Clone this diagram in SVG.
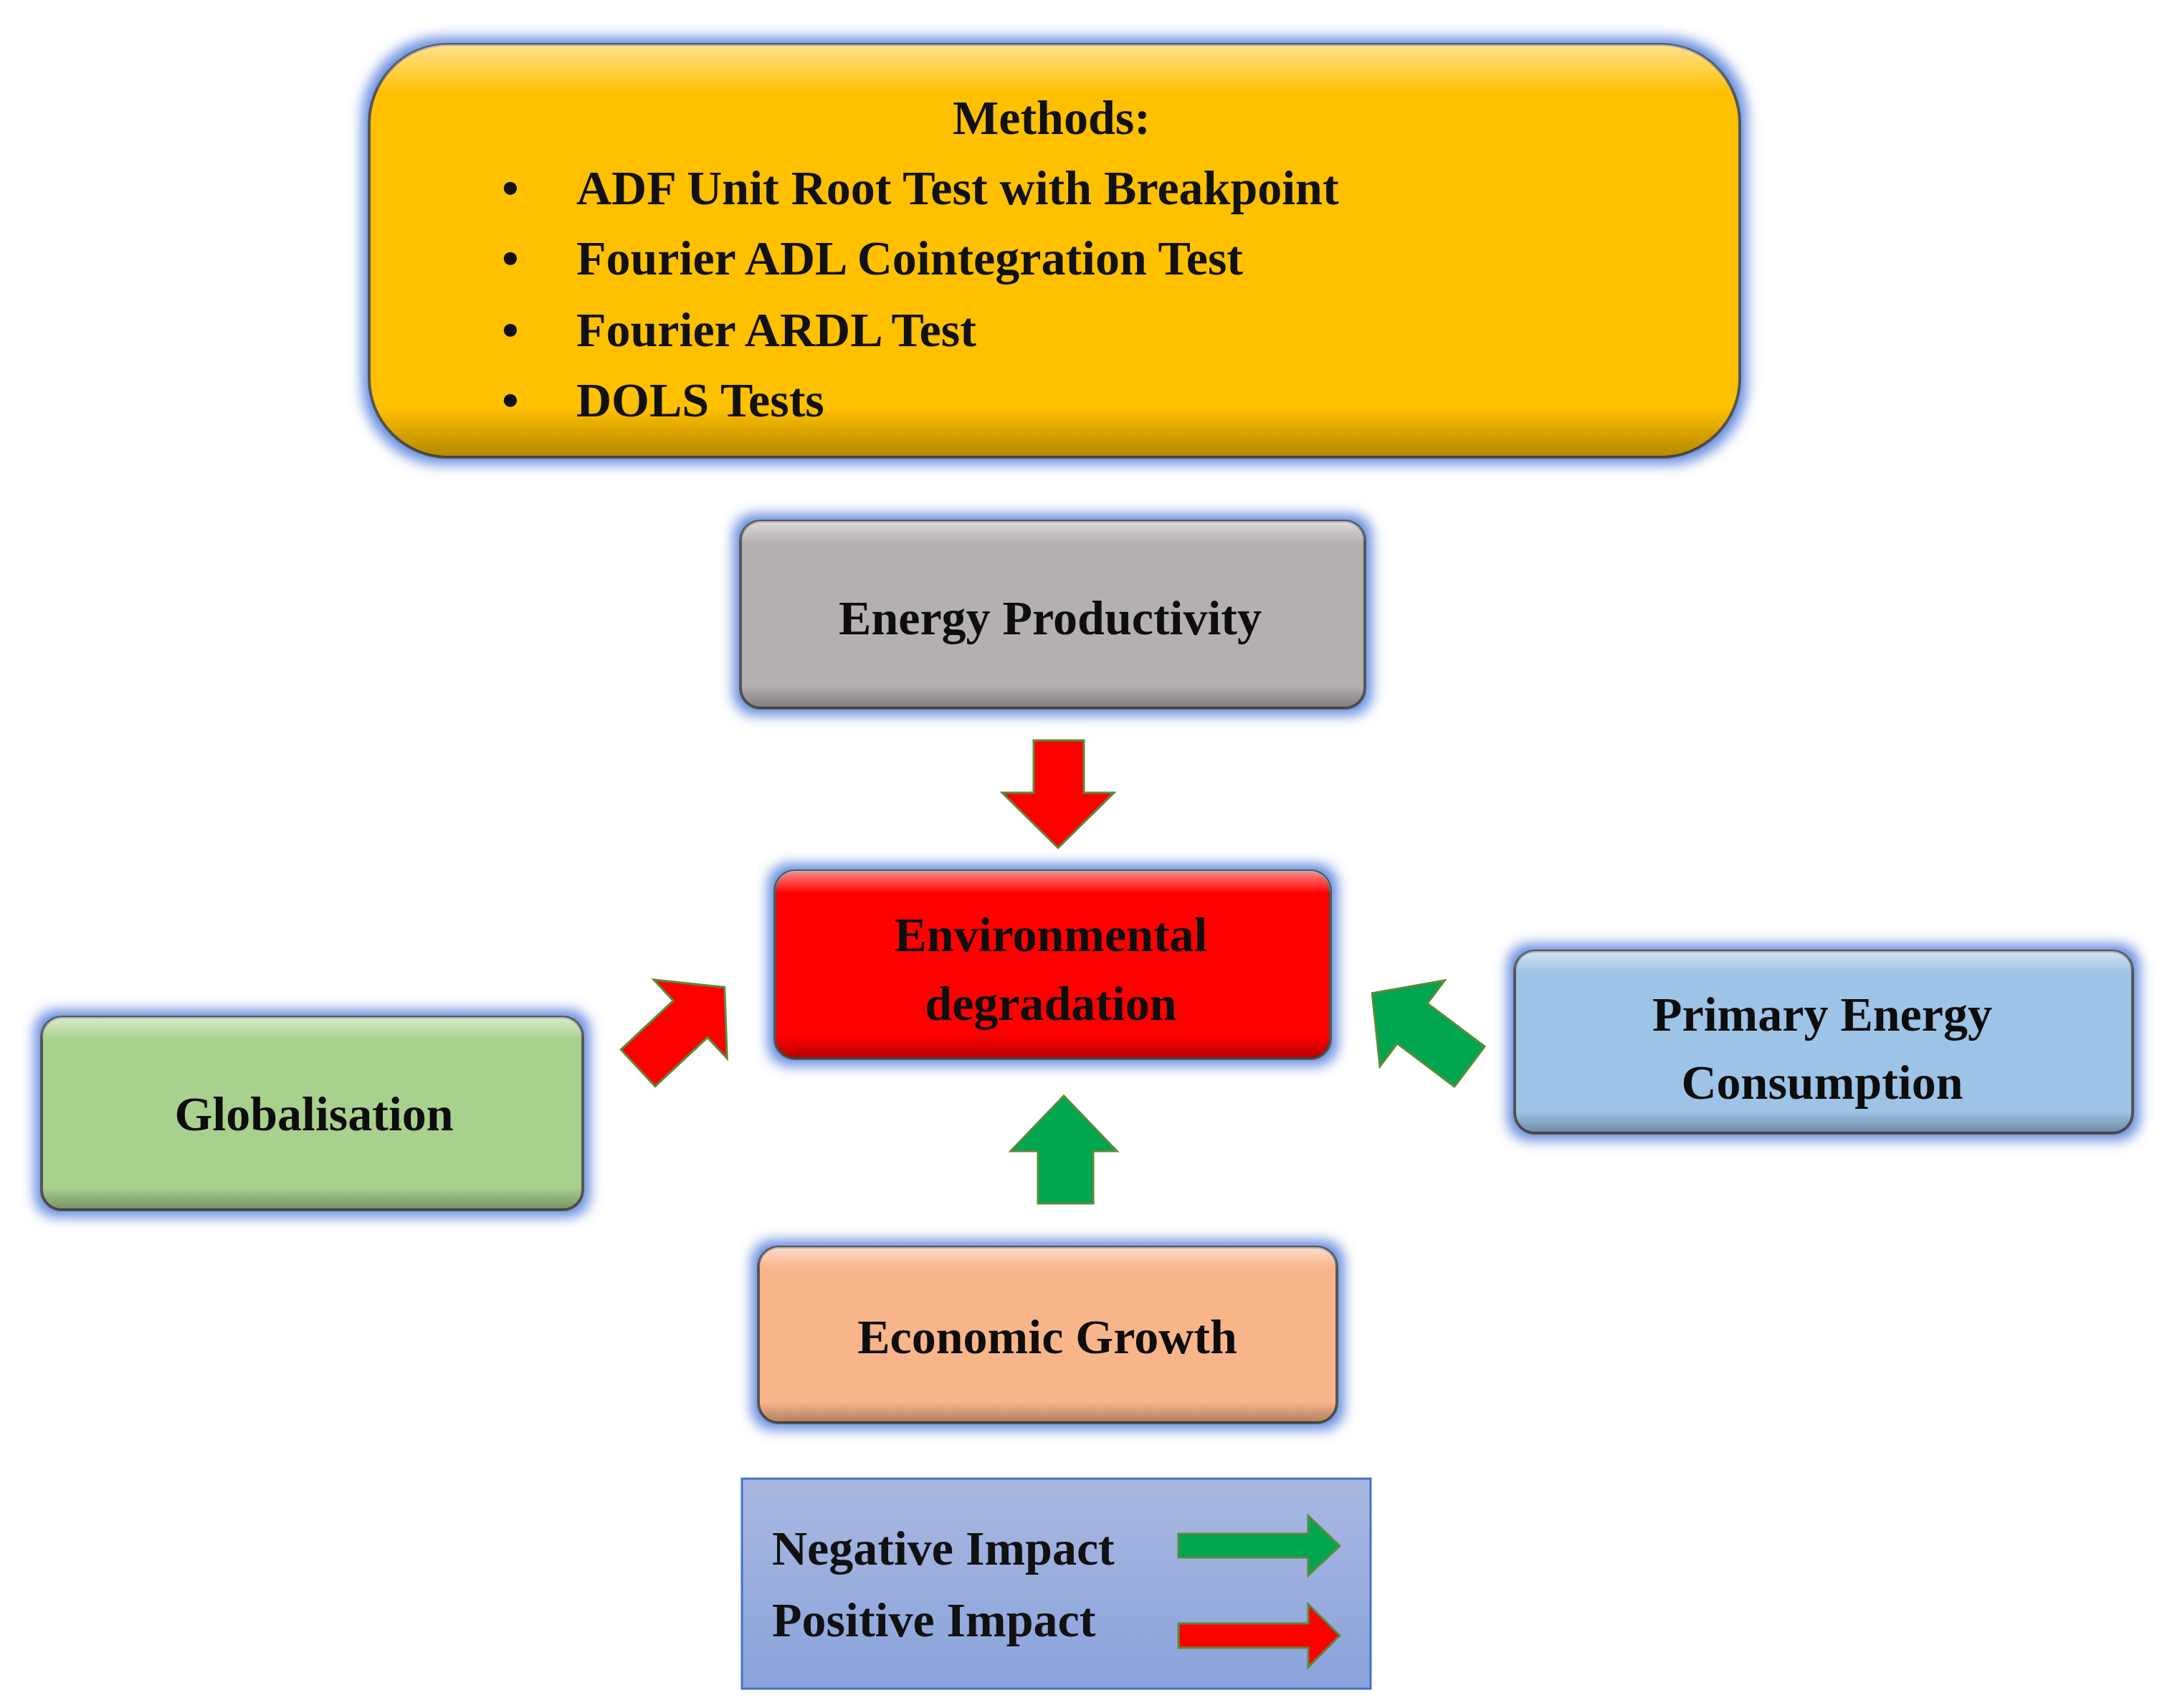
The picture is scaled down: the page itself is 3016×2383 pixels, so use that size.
<svg xmlns="http://www.w3.org/2000/svg" width="3016" height="2383" viewBox="0 0 3016 2383">
<defs>
<filter id="glow" x="-10%" y="-20%" width="120%" height="140%">
<feMorphology in="SourceAlpha" operator="dilate" radius="8" result="d"/>
<feGaussianBlur in="d" stdDeviation="9" result="b"/>
<feFlood flood-color="#4a78d8" flood-opacity="0.85"/>
<feComposite in2="b" operator="in" result="g"/>
<feMerge><feMergeNode in="g"/><feMergeNode in="SourceGraphic"/></feMerge>
</filter>
<linearGradient id="shine" x1="0" y1="0" x2="0" y2="1">
<stop offset="0" stop-color="#fff" stop-opacity="0.55"/>
<stop offset="0.12" stop-color="#fff" stop-opacity="0"/>
<stop offset="0.88" stop-color="#000" stop-opacity="0"/>
<stop offset="1" stop-color="#000" stop-opacity="0.3"/>
</linearGradient>
<linearGradient id="leg" x1="0" y1="0" x2="0" y2="1">
<stop offset="0" stop-color="#a9b8e0"/><stop offset="1" stop-color="#8aa3dc"/>
</linearGradient>
</defs>
<style>
.t{font-family:"Liberation Serif",serif;font-weight:bold;font-size:68px;fill:#111}
.c{text-anchor:middle}
.box{stroke:#555;stroke-width:4}
</style>
<rect width="3016" height="2383" fill="#fff"/>
<g id="methods" filter="url(#glow)">
<rect class="box" x="515" y="62" width="1912" height="576" rx="110" fill="#ffc000"/>
<rect x="515" y="62" width="1912" height="576" rx="110" fill="url(#shine)"/>
</g>
<g id="methods-text" class="t">
<text x="1467" y="187" class="t c">Methods:</text>
<text x="700" y="285" class="t">•</text><text x="804" y="285" class="t">ADF Unit Root Test with Breakpoint</text>
<text x="700" y="383" class="t">•</text><text x="804" y="383" class="t">Fourier ADL Cointegration Test</text>
<text x="700" y="483" class="t">•</text><text x="804" y="483" class="t">Fourier ARDL Test</text>
<text x="700" y="581" class="t">•</text><text x="804" y="581" class="t">DOLS Tests</text>
</g>
<g id="energy-productivity" filter="url(#glow)">
<rect class="box" x="1033" y="727" width="871" height="261" rx="28" fill="#b4b0b0"/>
<rect x="1033" y="727" width="871" height="261" rx="28" fill="url(#shine)"/>
<text x="1465" y="885" class="t c">Energy Productivity</text>
</g>
<g id="environmental-degradation" filter="url(#glow)">
<rect class="box" x="1081" y="1215" width="775" height="262" rx="28" fill="#ff0000"/>
<rect x="1081" y="1215" width="775" height="262" rx="28" fill="url(#shine)"/>
<text x="1466" y="1327" class="t c">Environmental</text>
<text x="1466" y="1423" class="t c">degradation</text>
</g>
<g id="globalisation" filter="url(#glow)">
<rect class="box" x="58" y="1419" width="755" height="269" rx="28" fill="#a9d18e"/>
<rect x="58" y="1419" width="755" height="269" rx="28" fill="url(#shine)"/>
<text x="438" y="1577" class="t c">Globalisation</text>
</g>
<g id="primary-energy" filter="url(#glow)">
<rect class="box" x="2113" y="1327" width="862" height="254" rx="28" fill="#9dc3e6"/>
<rect x="2113" y="1327" width="862" height="254" rx="28" fill="url(#shine)"/>
<text x="2542" y="1438" class="t c">Primary Energy</text>
<text x="2542" y="1533" class="t c">Consumption</text>
</g>
<g id="economic-growth" filter="url(#glow)">
<rect class="box" x="1058" y="1740" width="807" height="245" rx="28" fill="#f8b58a"/>
<rect x="1058" y="1740" width="807" height="245" rx="28" fill="url(#shine)"/>
<text x="1461" y="1888" class="t c">Economic Growth</text>
</g>
<g id="connectors" stroke="#5a8a3a" stroke-width="3">
<polygon fill="#ff0000" points="1442,1033 1512,1033 1512,1106 1554,1106 1476,1183 1398,1106 1442,1106"/>
<polygon fill="#00a650" points="1448,1679 1525,1679 1525,1606 1558,1606 1484,1529 1410,1606 1448,1606"/>
<polygon fill="#ff0000" transform="translate(890,1490) rotate(-43)" points="0,-35 100,-35 100,-75 165,0 100,75 100,35 0,35"/>
<polygon fill="#00a650" transform="translate(2050,1488) rotate(-143)" points="0,-35 100,-35 100,-75 170,0 100,75 100,35 0,35"/>
</g>
<g id="legend">
<rect x="1035" y="2063" width="877" height="293" fill="url(#leg)" stroke="#4472c4" stroke-width="3"/>
<text x="1077" y="2183" class="t">Negative Impact</text>
<text x="1077" y="2283" class="t">Positive Impact</text>
<polygon fill="#00a650" stroke="#5a8a3a" stroke-width="3" points="1644,2140 1825,2140 1825,2115 1869,2157 1825,2198 1825,2173 1644,2173"/>
<polygon fill="#ff0000" stroke="#5a8a3a" stroke-width="3" points="1644,2265 1825,2265 1825,2238 1869,2282 1825,2326 1825,2299 1644,2299"/>
</g>
</svg>
